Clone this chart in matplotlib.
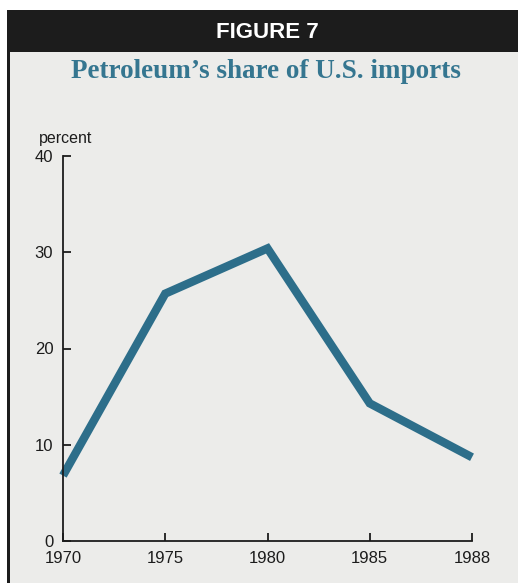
import matplotlib.pyplot as plt
from matplotlib.patches import Rectangle

years = ['1970', '1975', '1980', '1985', '1988']
share = [6.8, 25.7, 30.4, 14.3, 8.7]
yticks = [0, 10, 20, 30, 40]

W, H = 518, 583
line_col = '#2d6e8a'
title_col = '#357690'
paper = '#ececea'
ink = '#1c1c1c'

fig = plt.figure(figsize=(W / 100, H / 100), dpi=100)
fig.patch.set_facecolor('white')

def px_rect(x0, y0, x1, y1, color):
    # rectangle in pixel coords measured from the top-left corner
    fig.add_artist(Rectangle((x0 / W, 1 - y1 / H), (x1 - x0) / W, (y1 - y0) / H,
                             transform=fig.transFigure, color=color, lw=0, zorder=0))

px_rect(7, 10, W, H, paper)
px_rect(7, 10, W, 52, ink)
px_rect(7, 10, 10, H, ink)

fig.text(267 / W, 1 - 32 / H, 'FIGURE 7', color='white', fontsize=16, fontweight='bold',
         family='Liberation Sans', ha='center', va='center')
fig.text(266 / W, 1 - 72 / H, 'Petroleum\u2019s share of U.S. imports', color=title_col,
         fontsize=19.5, fontweight='bold', family='Liberation Serif', ha='center', va='center')

ax = fig.add_axes([63 / W, 1 - 541 / H, (472 - 63) / W, (541 - 156) / H])
ax.set_facecolor('none')
x = range(len(years))
ax.plot(x, share, color=line_col, lw=6, solid_joinstyle='miter', solid_capstyle='butt',
        clip_on=False)

ax.set_xlim(0, len(years) - 1)
ax.set_ylim(0, 40)
ax.set_xticks(list(x))
ax.set_xticklabels(years)
ax.set_yticks(yticks)
for s in ['top', 'right']:
    ax.spines[s].set_visible(False)
for s in ['left', 'bottom']:
    ax.spines[s].set_color(ink)
    ax.spines[s].set_linewidth(1.3)
ax.tick_params(direction='in', length=6, width=1.3, color=ink, labelcolor=ink,
               labelsize=12)
for lab in ax.get_xticklabels() + ax.get_yticklabels():
    lab.set_family('Liberation Sans')
ax.tick_params(axis='y', pad=7)
ax.tick_params(axis='x', pad=7.5)
fig.text(39 / W, 1 - 139 / H, 'percent', fontsize=11.5, family='Liberation Sans',
         color=ink, ha='left', va='center')

fig.savefig('out.png', dpi=100, facecolor=fig.get_facecolor())
